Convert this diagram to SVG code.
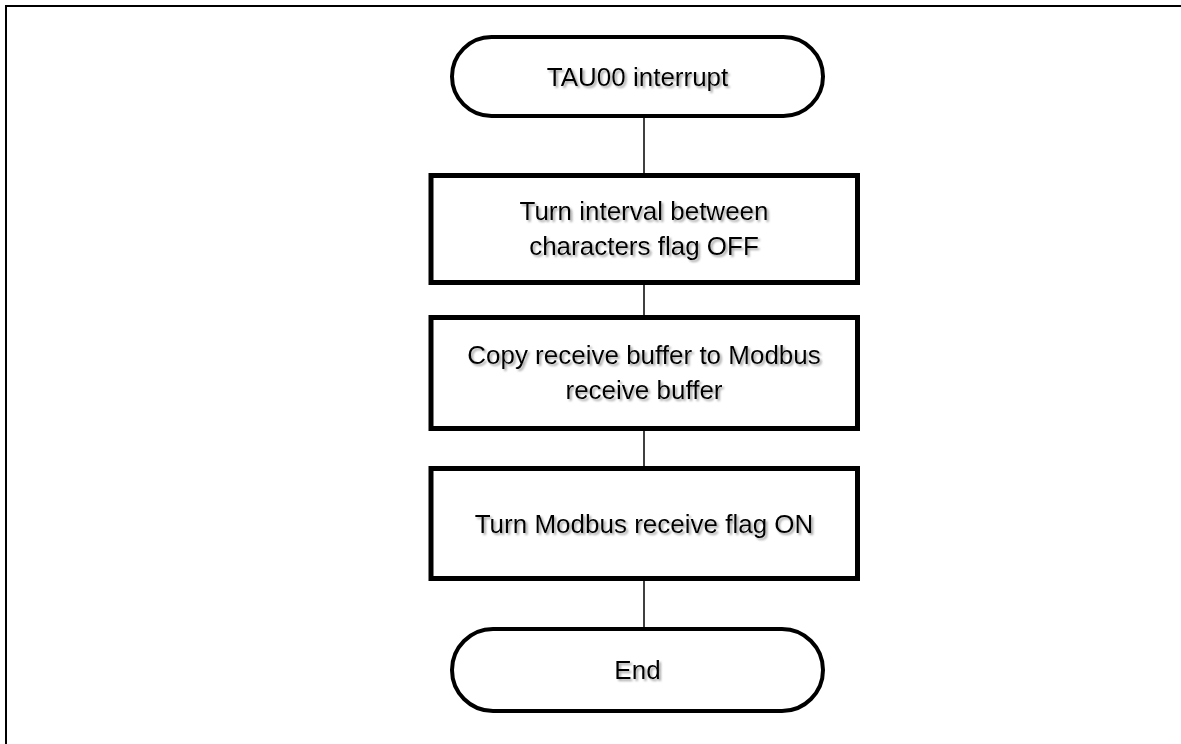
<svg xmlns="http://www.w3.org/2000/svg" width="1181" height="744" viewBox="0 0 1181 744">
<defs>
<filter id="sh" x="-10%" y="-30%" width="120%" height="160%">
<feDropShadow dx="2" dy="2" stdDeviation="1.2" flood-color="#808080" flood-opacity="0.7"/>
</filter>
</defs>
<style>
.frame{fill:none;stroke:#000;stroke-width:2}
.term{fill:#fff;stroke:#000;stroke-width:4}
.proc{fill:#fff;stroke:#000;stroke-width:5}
.conn{stroke:#000;stroke-width:1.5;fill:none}
text{font-family:"Liberation Sans",Arial,sans-serif;font-size:26px;fill:#000;text-anchor:middle;filter:url(#sh)}
</style>
<rect width="1181" height="744" fill="#fff"/>
<rect class="frame" x="6" y="6" width="1190" height="760"/>
<g id="connectors">
<line class="conn" x1="644" y1="116" x2="644" y2="175.5"/>
<line class="conn" x1="644" y1="282.5" x2="644" y2="317.5"/>
<line class="conn" x1="644" y1="428.5" x2="644" y2="468.5"/>
<line class="conn" x1="644" y1="578.5" x2="644" y2="629"/>
</g>
<g id="start">
<rect class="term" x="452" y="37" width="371" height="79" rx="39.5" ry="39.5"/>
<text x="637.5" y="85.5">TAU00 interrupt</text>
</g>
<g id="step1">
<rect class="proc" x="431" y="175.5" width="426.5" height="107"/>
<text x="644" y="220">Turn interval between</text>
<text x="644" y="255">characters flag OFF</text>
</g>
<g id="step2">
<rect class="proc" x="431" y="317.5" width="426.5" height="111"/>
<text x="644" y="364">Copy receive buffer to Modbus</text>
<text x="644" y="399">receive buffer</text>
</g>
<g id="step3">
<rect class="proc" x="431" y="468.5" width="426.5" height="110"/>
<text x="644" y="532.5">Turn Modbus receive flag ON</text>
</g>
<g id="end">
<rect class="term" x="452" y="629" width="371" height="82" rx="41" ry="41"/>
<text x="637.5" y="679">End</text>
</g>
</svg>
